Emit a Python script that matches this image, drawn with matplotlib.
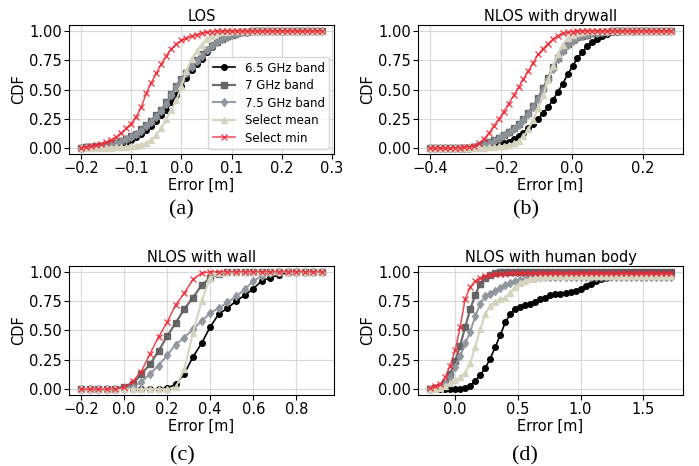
import matplotlib
matplotlib.use('Agg')
import matplotlib.pyplot as plt
import numpy as np

plt.rcParams['font.family'] = ['DejaVu Sans']
plt.rcParams['font.size'] = 10.5

labels = ['6.5 GHz band', '7 GHz band', '7.5 GHz band', 'Select mean', 'Select min']
titles = ['LOS', 'NLOS with drywall', 'NLOS with wall', 'NLOS with human body']
captions = ['(a)', '(b)', '(c)', '(d)']
xticks = [[-0.2, -0.1, 0.0, 0.1, 0.2, 0.3],
          [-0.4, -0.2, 0.0, 0.2],
          [-0.2, 0.0, 0.2, 0.4, 0.6, 0.8],
          [0.0, 0.5, 1.0, 1.5]]

# error grids of the four CDFs
err_los = np.linspace(-0.2, 0.28, 49)
err_drywall = np.linspace(-0.4, 0.28, 50)
err_wall = np.linspace(-0.2, 0.92, 29)
err_body = np.linspace(-0.2, 1.72, 49)

# ---- LOS ----
los_65 = [0.005, 0.007, 0.009, 0.011, 0.014, 0.017, 0.021, 0.027, 0.035, 0.05,
          0.07, 0.095, 0.125, 0.155, 0.19, 0.235, 0.28, 0.33, 0.39, 0.45,
          0.53, 0.60, 0.665, 0.715, 0.765, 0.82, 0.865, 0.905, 0.93, 0.95,
          0.965, 0.98, 0.99, 0.995] + [1.0] * 15
los_7 = [0.005, 0.008, 0.011, 0.015, 0.02, 0.027, 0.036, 0.048, 0.062, 0.08,
         0.10, 0.125, 0.16, 0.195, 0.235, 0.28, 0.33, 0.39, 0.46, 0.53,
         0.59, 0.645, 0.70, 0.755, 0.80, 0.84, 0.88, 0.91, 0.935, 0.955,
         0.97, 0.98, 0.99, 0.995] + [1.0] * 15
los_75 = [0.004, 0.007, 0.01, 0.014, 0.019, 0.025, 0.033, 0.044, 0.057, 0.074,
          0.095, 0.12, 0.15, 0.185, 0.225, 0.27, 0.32, 0.38, 0.45, 0.52,
          0.58, 0.64, 0.695, 0.745, 0.79, 0.835, 0.875, 0.905, 0.93, 0.95,
          0.965, 0.978, 0.988, 0.994] + [1.0] * 15
los_mean = [0.0, 0.0, 0.001, 0.002, 0.003, 0.004, 0.005, 0.007, 0.009, 0.012,
            0.016, 0.022, 0.03, 0.045, 0.07, 0.11, 0.17, 0.25, 0.33, 0.41,
            0.53, 0.66, 0.76, 0.83, 0.88, 0.93, 0.96, 0.98, 0.99, 0.995] + [1.0] * 19
los_min = [0.005, 0.01, 0.015, 0.025, 0.035, 0.05, 0.07, 0.095, 0.13, 0.17,
           0.21, 0.27, 0.35, 0.47, 0.56, 0.64, 0.72, 0.79, 0.85, 0.89,
           0.92, 0.94, 0.955, 0.97, 0.98, 0.99, 0.995, 0.997] + [1.0] * 21

# ---- NLOS with drywall ----
dry_65 = [0.0] * 8 + [0.002, 0.004, 0.007, 0.01, 0.015, 0.02, 0.03, 0.04,
          0.055, 0.075, 0.10, 0.13, 0.17, 0.21, 0.25, 0.30, 0.35, 0.41,
          0.48, 0.55, 0.63, 0.70, 0.77, 0.82, 0.87, 0.905, 0.935, 0.955,
          0.975, 0.99, 0.995] + [1.0] * 11
dry_7 = [0.0] * 8 + [0.003, 0.008, 0.02, 0.035, 0.05, 0.07, 0.09, 0.115,
         0.14, 0.17, 0.21, 0.25, 0.30, 0.36, 0.43, 0.51, 0.60, 0.69,
         0.77, 0.84, 0.89, 0.92, 0.945, 0.96, 0.97, 0.98, 0.985, 0.99,
         0.995] + [1.0] * 13
dry_75 = [0.0] * 8 + [0.002, 0.006, 0.015, 0.03, 0.045, 0.065, 0.085, 0.11,
          0.135, 0.165, 0.20, 0.24, 0.29, 0.35, 0.42, 0.50, 0.59, 0.68,
          0.76, 0.83, 0.88, 0.915, 0.94, 0.955, 0.97, 0.98, 0.985, 0.99,
          0.995] + [1.0] * 13
dry_mean = [0.0] * 11 + [0.003, 0.006, 0.01, 0.015, 0.02, 0.03, 0.04, 0.06,
            0.10, 0.16, 0.24, 0.34, 0.45, 0.58, 0.70, 0.80, 0.88, 0.94,
            0.97, 0.985, 0.993] + [1.0] * 18
dry_min = [0.0] * 5 + [0.003, 0.005, 0.008, 0.012, 0.02, 0.04, 0.08, 0.13,
           0.19, 0.25, 0.31, 0.38, 0.45, 0.52, 0.59, 0.66, 0.73, 0.80,
           0.85, 0.89, 0.93, 0.96, 0.98, 0.99, 0.995] + [1.0] * 20

# ---- NLOS with wall ----
wall_65 = [0.0] * 10 + [0.01, 0.04, 0.13, 0.275, 0.39, 0.53, 0.64, 0.69, 0.75,
           0.80, 0.855, 0.925, 0.95, 0.975, 0.995] + [1.0] * 4
wall_7 = [0.0] * 4 + [0.005, 0.02, 0.04, 0.13, 0.21, 0.325, 0.45, 0.565, 0.685,
          0.78, 0.885, 0.95, 0.98] + [1.0] * 12
wall_75 = [0.0] * 5 + [0.005, 0.02, 0.06, 0.13, 0.20, 0.29, 0.38, 0.44, 0.51,
           0.58, 0.65, 0.69, 0.74, 0.79, 0.85, 0.92, 0.965, 0.99] + [1.0] * 6
wall_mean = [0.0] * 11 + [0.015, 0.17, 0.48, 0.75, 0.95, 0.99] + [1.0] * 12
wall_min = [0.0] * 5 + [0.015, 0.065, 0.15, 0.30, 0.445, 0.57, 0.72, 0.82,
            0.935, 0.99] + [1.0] * 14

# ---- NLOS with human body ----
body_65 = [0.0] * 5 + [0.002, 0.005, 0.012, 0.03, 0.07, 0.12, 0.18, 0.26, 0.36,
           0.46, 0.57, 0.64, 0.68, 0.70, 0.715, 0.73, 0.745, 0.765, 0.78,
           0.80, 0.81, 0.815, 0.82, 0.83, 0.835, 0.85, 0.88, 0.90, 0.92,
           0.94, 0.95, 0.97, 0.98, 0.985, 0.99, 0.993, 0.995, 0.997] + [1.0] * 6
body_7 = [0.005, 0.01, 0.02, 0.05, 0.13, 0.24, 0.37, 0.53, 0.68, 0.80,
          0.90, 0.95, 0.975, 0.99, 0.995] + [1.0] * 34
body_75 = [0.005, 0.01, 0.02, 0.045, 0.10, 0.19, 0.28, 0.39, 0.49, 0.62,
           0.73, 0.79, 0.815, 0.84, 0.865, 0.885, 0.905, 0.92, 0.93, 0.94,
           0.945, 0.95] + [0.955] * 27
body_mean = [0.0, 0.005, 0.01, 0.025, 0.05, 0.075, 0.10, 0.14, 0.22, 0.36,
             0.51, 0.64, 0.71, 0.745, 0.765, 0.78, 0.82, 0.87, 0.905, 0.925,
             0.94, 0.95, 0.955, 0.96] + [0.965] * 25
body_min = [0.01, 0.025, 0.04, 0.10, 0.20, 0.33, 0.53, 0.77, 0.87, 0.92,
            0.95, 0.965, 0.975, 0.98, 0.983, 0.985] + [0.988] * 33

panels = [
    (err_los, [los_65, los_7, los_75, los_mean, los_min]),
    (err_drywall, [dry_65, dry_7, dry_75, dry_mean, dry_min]),
    (err_wall, [wall_65, wall_7, wall_75, wall_mean, wall_min]),
    (err_body, [body_65, body_7, body_75, body_mean, body_min]),
]

styles = [
    dict(color='#000000', marker='o', markersize=4, linewidth=1.2),
    dict(color='#5e5e5e', marker='s', markersize=5, linewidth=1.6, alpha=0.9),
    dict(color='#8d949b', marker='d', markersize=4.5, linewidth=1.5, alpha=0.9),
    dict(color='#d6d3bf', marker='^', markersize=4, linewidth=1.5),
    dict(color='#ea2a36', marker='x', markersize=4, linewidth=1.1, alpha=0.85),
]

fig = plt.figure(figsize=(6.99, 4.66), dpi=100)
positions = [
    [0.0987, 0.6695, 0.3793, 0.2765],
    [0.598, 0.6695, 0.379, 0.2765],
    [0.0987, 0.1524, 0.3793, 0.2768],
    [0.598, 0.1524, 0.379, 0.2768],
]
caption_xy = [(0.259, 0.549), (0.752, 0.549), (0.261, 0.021), (0.751, 0.021)]

for k, (err, series) in enumerate(panels):
    ax = fig.add_axes(positions[k])
    for vals, lab, st in zip(series, labels, styles):
        ax.plot(err, vals, label=lab, **st)
    ax.set_title(titles[k], fontsize=10.5, pad=3)
    ax.set_xlabel('Error [m]', fontsize=10.5, labelpad=1)
    ax.set_ylabel('CDF', fontsize=10.5, labelpad=2)
    ax.set_xticks(xticks[k])
    ax.set_yticks([0.0, 0.25, 0.5, 0.75, 1.0])
    ax.set_yticklabels(['0.00', '0.25', '0.50', '0.75', '1.00'])
    ax.tick_params(labelsize=10.5, pad=1.5)
    ax.grid(True, color='#d0d0d0', linewidth=0.8, alpha=0.8)
    ax.set_axisbelow(True)
    if k == 0:
        ax.legend(loc='lower right', fontsize=8.5, handlelength=1.9,
                  borderpad=0.4, labelspacing=0.38, handletextpad=0.8,
                  borderaxespad=0.4)
    fig.text(caption_xy[k][0], caption_xy[k][1], captions[k],
             family='Liberation Serif', fontsize=16, ha='center', va='center')

fig.savefig('out.png', dpi=100)
